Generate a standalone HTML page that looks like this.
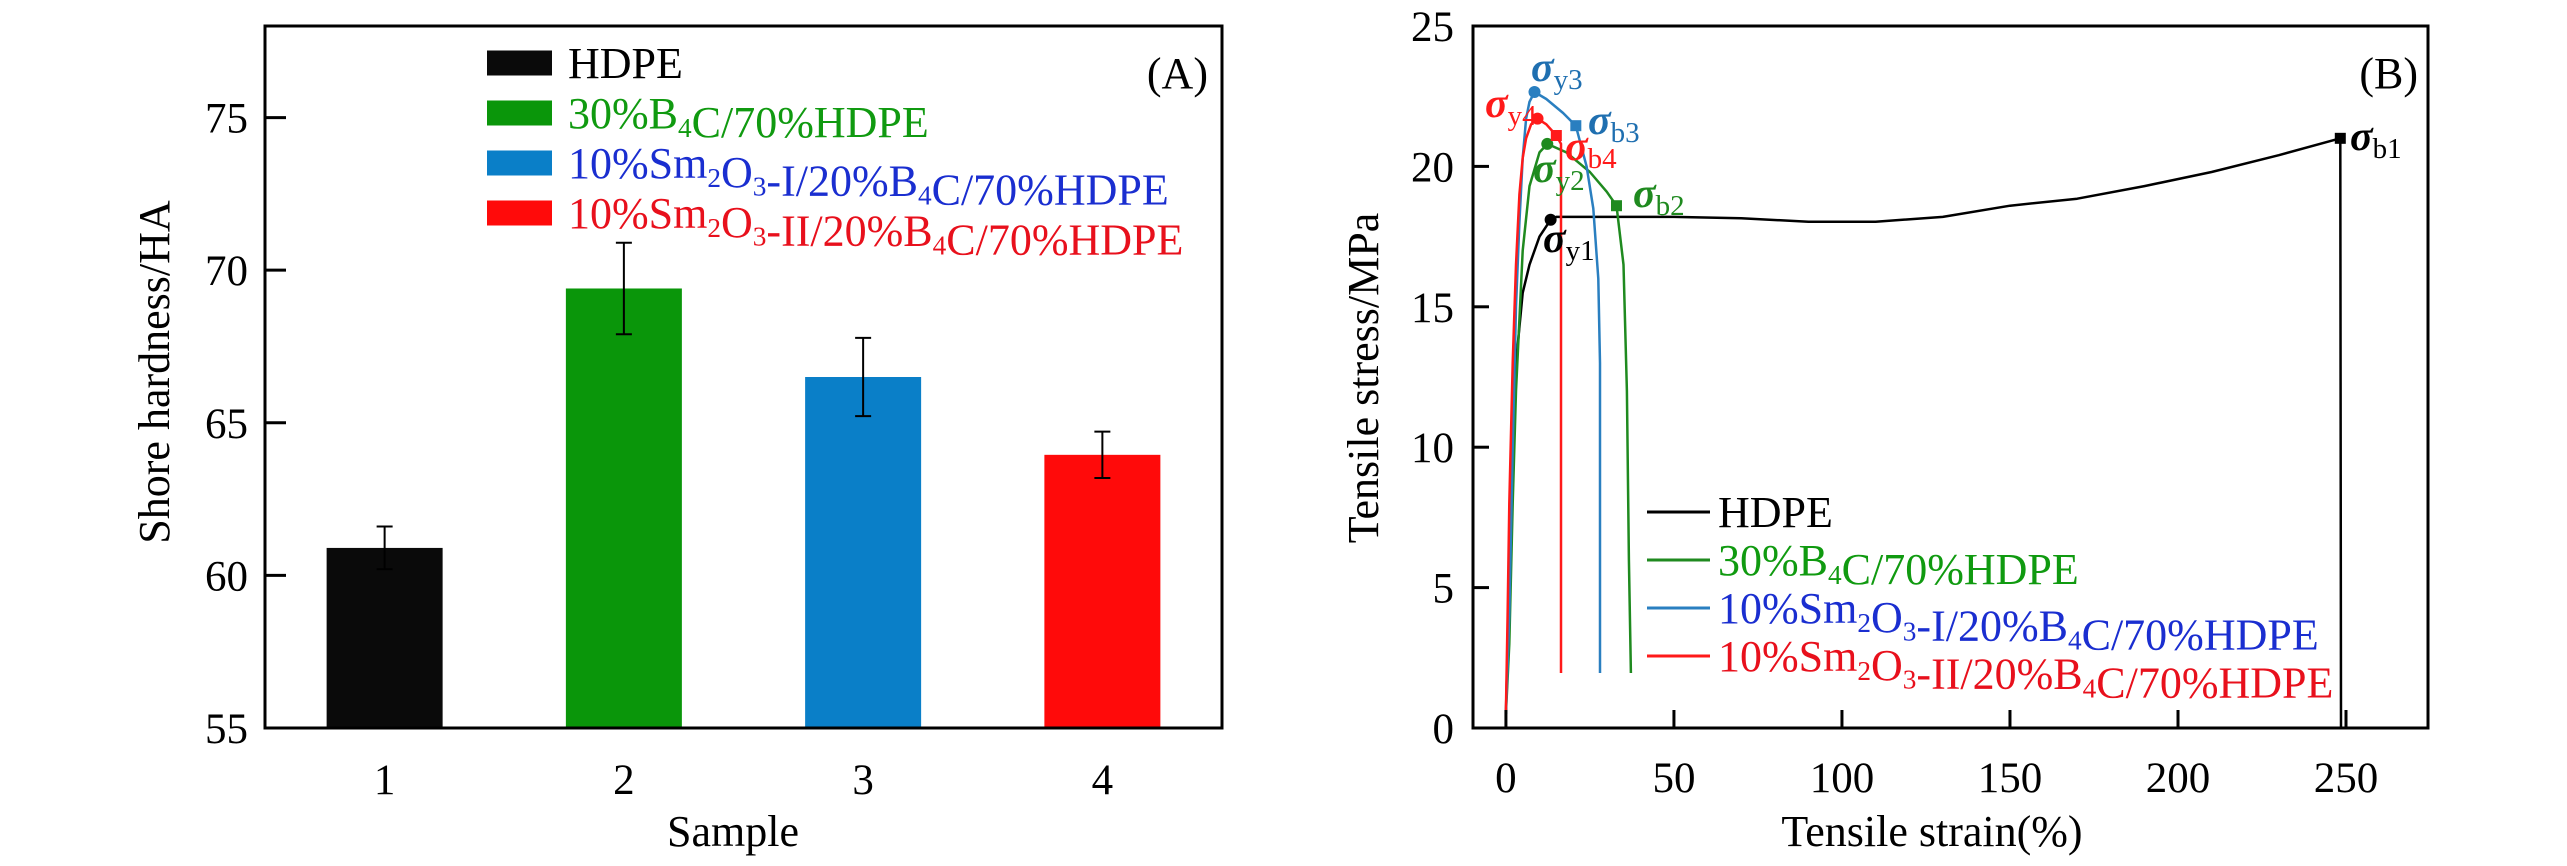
<!DOCTYPE html>
<html><head><meta charset="utf-8"><style>
html,body{margin:0;padding:0;background:#fff;}
svg{display:block;}
svg text, svg tspan{font-family:"Liberation Serif","Times New Roman","DejaVu Serif",serif;}
</style></head><body>
<svg id="fig" width="2567" height="866" viewBox="0 0 2567 866" xmlns="http://www.w3.org/2000/svg" font-family="Liberation Serif, serif">
<g id="A"></g>
<g id="B"></g>
</svg>
<script>
// ---- Panel A data ----
const samples = [1, 2, 3, 4];
const hardness = [60.9, 69.4, 66.5, 63.95];
const hardnessErr = [0.7, 1.5, 1.28, 0.76];
const yTicksA = [55, 60, 65, 70, 75];
const legendA = ["HDPE", "30%B4C/70%HDPE", "10%Sm2O3-I/20%B4C/70%HDPE", "10%Sm2O3-II/20%B4C/70%HDPE"];

// ---- Panel B data ----
const xTicksB = [0, 50, 100, 150, 200, 250];
const yTicksB = [0, 5, 10, 15, 20, 25];
const hdpeX = [0, 0.5, 1, 2, 3, 5, 7, 10, 13.3, 15, 30, 50, 70, 90, 110, 130, 150, 170, 190, 210, 230, 248.3, 248.5];
const hdpeY = [0.5, 3, 5, 10, 13, 15.5, 16.5, 17.5, 18.1, 18.2, 18.2, 18.2, 18.15, 18.03, 18.03, 18.2, 18.6, 18.85, 19.3, 19.8, 20.4, 21.0, 0];
const b4cX = [0, 1, 2, 3, 5, 7, 10, 12.3, 18, 25, 30, 32.9, 35, 36, 36.6, 37.2];
const b4cY = [0.5, 3, 8, 12, 17, 19.3, 20.5, 20.8, 20.5, 19.8, 19.1, 18.6, 16.5, 12, 6, 1.96];
const smIX = [0, 1, 2, 3, 4, 5, 6, 7, 8.5, 12, 17, 20.8, 24, 26, 27.5, 28, 28];
const smIY = [0.5, 4, 10, 15, 18, 20.3, 21.7, 22.3, 22.65, 22.4, 21.9, 21.45, 20, 18.5, 16, 13, 1.96];
const smIIX = [0, 0.5, 1, 2, 3, 4, 5, 6, 7.5, 9.4, 12, 15, 16.4, 16.4];
const smIIY = [0.6, 4, 8, 13, 16.5, 19, 20.3, 21, 21.5, 21.7, 21.5, 21.1, 20.8, 1.96];
const yieldX = [13.3, 12.3, 8.5, 9.4];
const yieldY = [18.1, 20.8, 22.65, 21.7];
const breakX = [248.3, 32.9, 20.8, 15];
const breakY = [21.0, 18.6, 21.45, 21.1];

const NS = "http://www.w3.org/2000/svg";
const FF = "Liberation Serif, Times New Roman, serif";
function mk(tag, attrs, parent) {
  const e = document.createElementNS(NS, tag);
  for (const k in attrs) e.setAttribute(k, attrs[k]);
  if (tag === "text") e.setAttribute("font-family", FF);
  parent.appendChild(e);
  return e;
}
function richText(parent, x, y, str, fill, size, anchor) {
  const t = mk("text", {x: x, y: y, fill: fill, "font-size": size, "text-anchor": anchor || "start"}, parent);
  const re = /(B)(4)|(m)(2)|(O)(3)/g;
  let last = 0, m;
  while ((m = re.exec(str)) !== null) {
    const base = m[1] || m[3] || m[5], sub = m[2] || m[4] || m[6];
    const a = document.createElementNS(NS, "tspan"); a.textContent = str.slice(last, m.index) + base; t.appendChild(a);
    const s = document.createElementNS(NS, "tspan"); s.setAttribute("font-size", size * 0.62); s.setAttribute("dy", size * 0.2); s.textContent = sub; t.appendChild(s);
    const r = document.createElementNS(NS, "tspan"); r.setAttribute("dy", -size * 0.2); r.textContent = ""; t.appendChild(r);
    last = m.index + m[0].length;
  }
  const e = document.createElementNS(NS, "tspan"); e.textContent = str.slice(last); t.appendChild(e);
  return t;
}
const colors = ["#0a0a0a", "#0a960a", "#0a7fc8", "#ff0a0a"];
const textColors = ["#000", "#109a10", "#1a2ed0", "#e8101c"];
const lineColors = ["#000", "#1f8a1f", "#2a7fc0", "#ff1a1a"];

// ===== Panel A =====
(function () {
  const g = document.getElementById("A");
  const L = 265, R = 1222, T = 26, Bt = 728;
  const yMin = 55, yMax = 78, xMin = 0.5, xMax = 4.5;
  const ys = v => Bt - (v - yMin) / (yMax - yMin) * (Bt - T);
  const xs = v => L + (v - xMin) / (xMax - xMin) * (R - L);
  const bw = 116;
  samples.forEach((s, i) => {
    const r = mk("rect", {x: xs(s) - bw / 2, y: ys(hardness[i]), width: bw, height: Bt - ys(hardness[i]), fill: colors[i]}, g);
    
    
    const cx = xs(s), top = ys(hardness[i] + hardnessErr[i]), bot = ys(hardness[i] - hardnessErr[i]);
    const eb = mk("path", {d: `M${cx},${top}V${bot}M${cx - 8},${top}H${cx + 8}M${cx - 8},${bot}H${cx + 8}`, stroke: "#000", "stroke-width": 2, fill: "none"}, g);
    
    
    const tl = mk("text", {x: cx, y: 794, "font-size": 43, "text-anchor": "middle"}, g);
    tl.textContent = s;
    
    
  });
  yTicksA.forEach(v => {
    if (v !== yMin) mk("line", {x1: L, x2: L + 21, y1: ys(v), y2: ys(v), stroke: "#000", "stroke-width": 3}, g);
    const t = mk("text", {x: 248, y: ys(v) + 15, "font-size": 43, "text-anchor": "end"}, g);
    t.textContent = v;
    
    
  });
  const box = mk("rect", {x: L, y: T, width: R - L, height: Bt - T, fill: "none", stroke: "#000", "stroke-width": 3}, g);
  
  
  const yt = mk("text", {x: 0, y: 0, "font-size": 44, "text-anchor": "middle", transform: "translate(169,372) rotate(-90)"}, g);
  yt.textContent = "Shore hardness/HA";
  
  
  const xt = mk("text", {x: 733, y: 846, "font-size": 44, "text-anchor": "middle"}, g);
  xt.textContent = "Sample";
  
  
  const pl = mk("text", {x: 1208, y: 88, "font-size": 44, "text-anchor": "end"}, g);
  pl.textContent = "(A)";
  
  
  const rowsY = [63, 113, 163, 213];
  legendA.forEach((name, i) => {
    const sw = mk("rect", {x: 487, y: rowsY[i] - 12.5, width: 65, height: 25, fill: colors[i]}, g);
    
    
    const t = richText(g, 568, rowsY[i] + 15, name, textColors[i], 44);
    
    
  });
})();

// ===== Panel B =====
(function () {
  const g = document.getElementById("B");
  const L = 1473, R = 2428, T = 26, Bt = 728;
  const xMin = -9.8, xMax = 274.4, yMin = 0, yMax = 25;
  const xs = v => L + (v - xMin) / (xMax - xMin) * (R - L);
  const ys = v => Bt - (v - yMin) / (yMax - yMin) * (Bt - T);
  const series = [[hdpeX, hdpeY], [b4cX, b4cY], [smIX, smIY], [smIIX, smIIY]];
  const names = ['hdpe', 'b4c-hdpe', 'sm2o3-i', 'sm2o3-ii'];
  series.forEach((s, i) => {
    const d = s[0].map((x, k) => (k ? "L" : "M") + xs(x).toFixed(1) + "," + ys(s[1][k]).toFixed(1)).join("");
    const p = mk("path", {d: d, fill: "none", stroke: lineColors[i], "stroke-width": 2.5, "stroke-linejoin": "round"}, g);
    
    
  });
  yieldX.forEach((x, i) => {
    const c = mk("circle", {cx: xs(x), cy: ys(yieldY[i]), r: 6, fill: lineColors[i]}, g);
    
    
  });
  breakX.forEach((x, i) => {
    const r = mk("rect", {x: xs(x) - 5.5, y: ys(breakY[i]) - 5.5, width: 11, height: 11, fill: lineColors[i]}, g);
    
    
  });
  xTicksB.forEach(v => {
    mk("line", {x1: xs(v), x2: xs(v), y1: Bt, y2: Bt - 18, stroke: "#000", "stroke-width": 3}, g);
    const t = mk("text", {x: xs(v), y: 792, "font-size": 43, "text-anchor": "middle"}, g);
    t.textContent = v;
    
    
  });
  yTicksB.forEach(v => {
    mk("line", {x1: L, x2: L + 16, y1: ys(v), y2: ys(v), stroke: "#000", "stroke-width": 3}, g);
    const t = mk("text", {x: 1454, y: ys(v) + 15, "font-size": 43, "text-anchor": "end"}, g);
    t.textContent = v;
    
    
  });
  const box = mk("rect", {x: L, y: T, width: R - L, height: Bt - T, fill: "none", stroke: "#000", "stroke-width": 3}, g);
  
  
  const yt = mk("text", {x: 0, y: 0, "font-size": 44, "text-anchor": "middle", transform: "translate(1378,378) rotate(-90)"}, g);
  yt.textContent = "Tensile stress/MPa";
  
  
  const xt = mk("text", {x: 1932, y: 846, "font-size": 44, "text-anchor": "middle"}, g);
  xt.textContent = "Tensile strain(%)";
  
  
  const pl = mk("text", {x: 2418, y: 88, "font-size": 44, "text-anchor": "end"}, g);
  pl.textContent = "(B)";
  
  
  const ann = [["y3", 1531, 81, 2], ["y4", 1485, 117, 3], ["b3", 1588, 134, 2], ["b4", 1565, 160, 3],
               ["y2", 1533, 182, 1], ["b2", 1633, 207, 1], ["y1", 1543, 252, 0], ["b1", 2350, 150, 0]];
  const annCol = ["#000", "#1f8a1f", "#1f6fb0", "#ff1a1a"];
  ann.forEach(a => {
    const t = mk("text", {x: a[1], y: a[2], fill: annCol[a[3]], "font-size": 42}, g);
    const s1 = document.createElementNS(NS, "tspan"); s1.setAttribute("font-style", "italic"); s1.setAttribute("font-weight", "bold"); s1.textContent = "σ"; t.appendChild(s1);
    const s2 = document.createElementNS(NS, "tspan"); s2.setAttribute("font-size", 29); s2.setAttribute("dy", 8); s2.textContent = a[0]; t.appendChild(s2);
    
    
  });
  const rowsY = [512, 560, 608, 656];
  legendA.forEach((name, i) => {
    const ln = mk("line", {x1: 1647, x2: 1710, y1: rowsY[i], y2: rowsY[i], stroke: lineColors[i], "stroke-width": 3}, g);
    
    
    const t = richText(g, 1718, rowsY[i] + 15, name, textColors[i], 44);
    
    
  });
})();
</script>
</body></html>
